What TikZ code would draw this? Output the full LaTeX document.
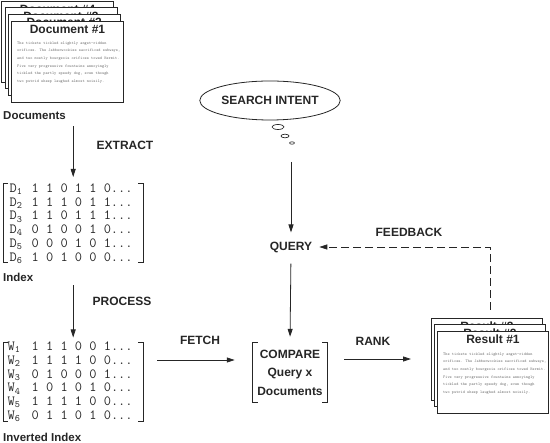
\documentclass[tikz,border=0pt]{standalone}
\usepackage{fontspec}
\setmainfont{Liberation Sans}
\usetikzlibrary{arrows.meta,shapes.geometric}
\newcommand\lipbody{The tickets tickled slightly angst-ridden\\orifices. The Jabberwockies sacrificed subways,\\and two mostly bourgeois orifices towed Kermit.\\Five very progressive fountains annoyingly\\tickled the partly speedy dog, even though\\two putrid sheep laughed almost noisily.}
\begin{document}
\begin{tikzpicture}[x=1pt,y=-1pt,
  lbl/.style={font=\fontsize{12}{14}\selectfont\bfseries, inner sep=1pt, text=black!85},
  sidelbl/.style={font=\fontsize{11.5}{14}\selectfont\bfseries, inner sep=0pt, anchor=west, text=black!85},
  arr/.style={draw=black!85, line width=0.8pt, -{Triangle[length=8pt,width=5pt]}},
  pg/.style={draw=black!85, line width=0.9pt, fill=white, minimum width=112pt, minimum height=81pt, inner sep=0pt, anchor=north west},
  pgtitle/.style={font=\fontsize{12}{14}\selectfont\bfseries, inner sep=0pt, text=black!85},
  pgtext/.style={font=\ttfamily\fontsize{4.1}{7.6}\selectfont, text=black!55, align=left, inner sep=0pt, anchor=north west},
  matbox/.style={minimum width=140pt, minimum height=79pt, inner sep=0pt, anchor=north west},
  row/.style={font=\ttfamily\fontsize{14}{14}\selectfont, inner sep=0pt, anchor=base west, text=black!85},
  brk/.style={draw=black!85, line width=0.8pt},
]
\useasboundingbox (0,0) rectangle (550,443);

% ---------- document stack ----------
\foreach \i/\x/\y in {4/1.2/0.8, 3/4.5/7.5, 2/7.8/14.2, 1/11/21} {
  \node[pg] (doc\i) at (\x,\y) {};
  \node[pgtitle] (doct\i) at ([yshift=-8.5pt]doc\i.north) {Document \#\i};
}
\node[pgtext] (docbody) at ([shift={(6pt,-20.5pt)}]doc1.north west) {\lipbody};
\node[sidelbl] (doclbl) at (3,116) {Documents};

% ---------- index ----------
\node[matbox] (idx) at (3,183) {};
\draw[brk] ([xshift=5pt]idx.north west) -- (idx.north west) -- (idx.south west) -- ([xshift=5pt]idx.south west);
\draw[brk] ([xshift=-5pt]idx.north east) -- (idx.north east) -- (idx.south east) -- ([xshift=-5pt]idx.south east);
\foreach \k/\r in {1/{1 1 0 1 1 0...}, 2/{1 1 1 0 1 1...}, 3/{1 1 0 1 1 1...}, 4/{0 1 0 0 1 0...}, 5/{0 0 0 1 0 1...}, 6/{1 0 1 0 0 0...}} {
  \node[row] (drow\k) at (9.5, 192.3+13.8*\k-13.8) {\makebox[22pt][l]{D\textsubscript{\k}}\r};
}
\node[sidelbl] (idxlbl) at (3,277) {Index};

% ---------- inverted index ----------
\node[matbox] (inv) at (3,342.5) {};
\draw[brk] ([xshift=5pt]inv.north west) -- (inv.north west) -- (inv.south west) -- ([xshift=5pt]inv.south west);
\draw[brk] ([xshift=-5pt]inv.north east) -- (inv.north east) -- (inv.south east) -- ([xshift=-5pt]inv.south east);
\foreach \k/\r in {1/{1 1 1 0 0 1...}, 2/{1 1 1 1 0 0...}, 3/{0 1 0 0 0 1...}, 4/{1 0 1 0 1 0...}, 5/{1 1 1 1 0 0...}, 6/{0 1 1 0 1 0...}} {
  \node[row] (wrow\k) at (7.5, 350.8+13.7*\k-13.7) {\makebox[24pt][l]{W\textsubscript{\k}}\r};
}
\node[sidelbl] (invlbl) at (3,437) {Inverted Index};

% ---------- vertical arrows left ----------
\draw[arr, shorten <=6pt, shorten >=6pt] (idx.north |- doclbl.south) -- (idx.north);
\node[lbl] (extract) at (125,145) {EXTRACT};
\draw[arr, shorten <=23pt, shorten >=5pt] (idx.south) -- (inv.north);
\node[lbl] (process) at (122,301) {PROCESS};

% ---------- search intent ----------
\node[ellipse, draw=black!85, line width=0.8pt, minimum width=133pt, minimum height=39pt, inner sep=0pt, lbl] (intent) at (270,100.5) {SEARCH INTENT};
\node[ellipse, draw=black!85, line width=0.7pt, minimum width=12pt, minimum height=5pt, inner sep=0pt] (b1) at (278,127) {};
\node[ellipse, draw=black!85, line width=0.7pt, minimum width=8pt, minimum height=3.6pt, inner sep=0pt] (b2) at (285,136) {};
\node[ellipse, draw=black!85, line width=0.6pt, minimum width=5pt, minimum height=2.4pt, inner sep=0pt] (b3) at (292,143) {};
\coordinate (ifoot) at (291,162);

\node[lbl] (query) at (291,247) {QUERY};
\draw[arr, shorten >=8pt] (ifoot) -- (query.north);

% ---------- compare ----------
\node[minimum width=74pt, minimum height=59pt, inner sep=0pt, align=center, font=\fontsize{12}{18.5}\selectfont\bfseries, text=black!85] (cmp) at (290,372.5) {COMPARE\\Query x\\Documents};
\draw[brk] ([xshift=5pt]cmp.north west) -- (cmp.north west) -- (cmp.south west) -- ([xshift=5pt]cmp.south west);
\draw[brk] ([xshift=-5pt]cmp.north east) -- (cmp.north east) -- (cmp.south east) -- ([xshift=-5pt]cmp.south east);
\draw[arr, shorten <=10pt, shorten >=6pt] (query.south) -- (cmp.north);

\draw[arr, shorten <=14pt, shorten >=18pt] (inv.east |- 0,360) -- (cmp.west |- 0,360);
\node[lbl] (fetch) at (200,340) {FETCH};

% ---------- results ----------
\foreach \i/\x/\y in {3/431/318, 2/434/324.5, 1/437/331} {
  \node[pg, minimum width=111pt, minimum height=82pt] (res\i) at (\x,\y) {};
  \node[pgtitle] (rest\i) at ([yshift=-8.5pt]res\i.north) {Result \#\i};
}
\node[pgtext] (resbody) at ([shift={(6pt,-21.5pt)}]res1.north west) {\lipbody};

\draw[arr, shorten <=17pt, shorten >=20pt] (cmp.east |- 0,359) -- (res3.west |- 0,359);
\node[lbl] (rank) at (373,341) {RANK};

% ---------- feedback ----------
\coordinate (fbstart) at (490,310);
\draw[arr, dash pattern=on 8pt off 4pt, shorten >=6pt] (fbstart) |- (query.east);
\node[lbl] (feedback) at (409,232) {FEEDBACK};
\end{tikzpicture}
\end{document}
